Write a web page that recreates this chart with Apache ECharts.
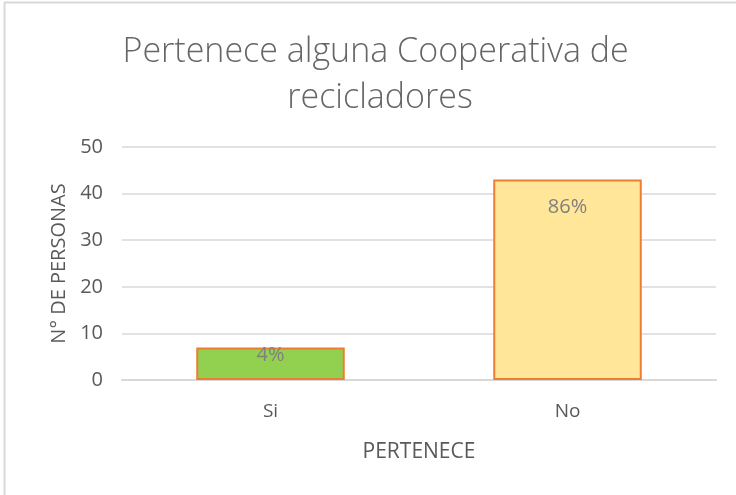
<!DOCTYPE html>
<html><head><meta charset="utf-8">
<script src="https://cdn.jsdelivr.net/npm/echarts@6/dist/echarts.min.js"></script>
<style>html,body{margin:0;padding:0;background:#fff}#c{width:736px;height:495px}</style>
</head><body><div id="c"></div>
<script>
const categories = ['Si', 'No'];
const values = [7, 43];
const percentLabels = ['4%', '86%'];
const barColors = ['#92D050', '#FFE699'];
const titleText = 'Pertenece alguna Cooperativa de \nrecicladores';

const chart = echarts.init(document.getElementById('c'));
const font = "'Open Sans', 'Liberation Sans', sans-serif";
const labelOffsets = [-2, 18];
chart.setOption({
  animation: false,
  backgroundColor: '#fff',
  title: {
    text: titleText, left: 375, textAlign: 'center', top: 24,
    textStyle: { fontFamily: font, fontSize: 34, fontWeight: 300, color: '#666666', lineHeight: 46 }
  },
  grid: { left: 122, right: 20, top: 147, bottom: 115, containLabel: false },
  xAxis: {
    type: 'category', data: categories,
    name: 'PERTENECE', nameLocation: 'middle', nameGap: 62,
    nameTextStyle: { fontFamily: font, fontSize: 21, color: '#595959' },
    axisLine: { lineStyle: { color: '#D9D9D9', width: 2 } },
    axisTick: { show: false },
    axisLabel: { fontFamily: font, fontSize: 19, color: '#595959', margin: 22 }
  },
  yAxis: {
    type: 'value', min: 0, max: 50, interval: 10,
    name: 'N° DE PERSONAS', nameLocation: 'middle', nameGap: 51,
    nameTextStyle: { fontFamily: font, fontSize: 20, color: '#595959' },
    axisLine: { show: false }, axisTick: { show: false },
    axisLabel: { fontFamily: font, fontSize: 20, color: '#595959', margin: 19 },
    splitLine: { lineStyle: { color: '#D9D9D9', width: 1.5 } }
  },
  series: [{
    type: 'bar', barWidth: '50%',
    data: values.map((v, i) => ({
      value: v,
      itemStyle: { color: barColors[i], borderColor: '#ED7D31', borderWidth: 2 },
      label: { show: true, position: 'insideTop', distance: 0, offset: [0, labelOffsets[i]], formatter: percentLabels[i],
        fontFamily: font, fontSize: 20, color: '#7F7F7F' }
    }))
  }],
  graphic: [
    { type: 'line', shape: { x1: 4.5, y1: 2, x2: 4.5, y2: 495 }, style: { stroke: '#D9D9D9', lineWidth: 2 } },
    { type: 'line', shape: { x1: 4, y1: 2.5, x2: 736, y2: 2.5 }, style: { stroke: '#D9D9D9', lineWidth: 2 } }
  ]
});
</script></body></html>
